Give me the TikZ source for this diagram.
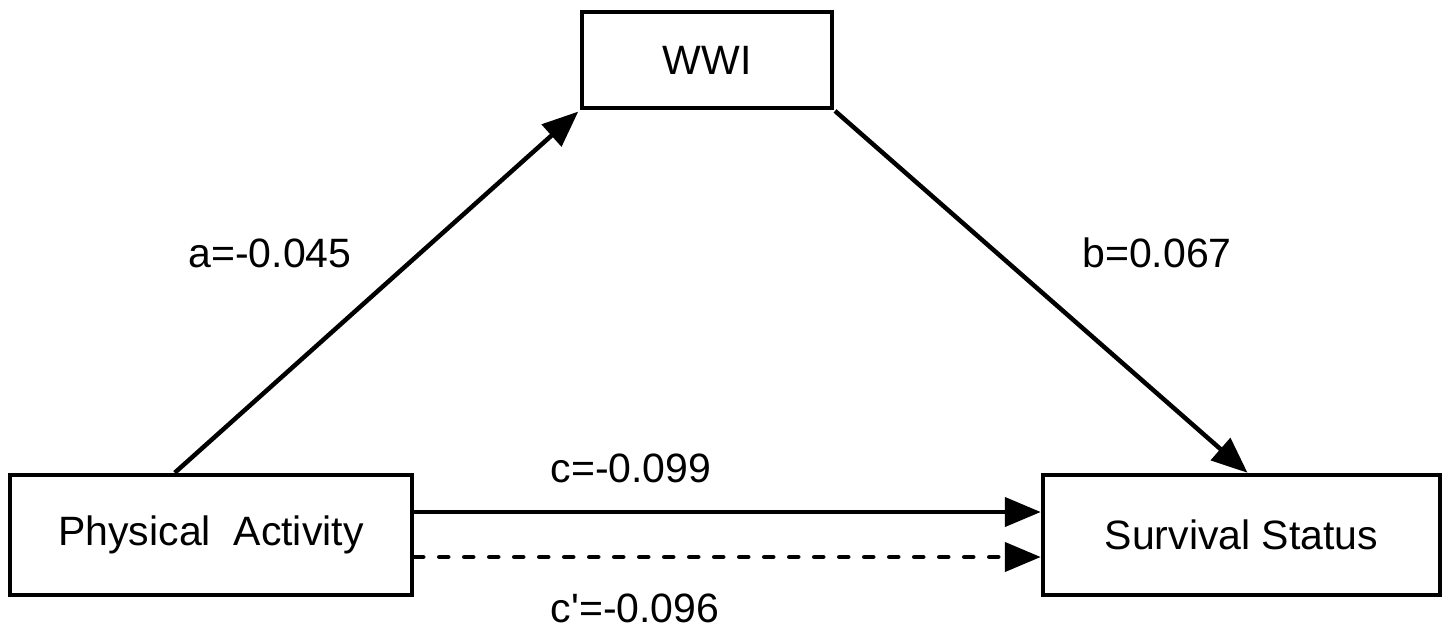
\documentclass[tikz,border=0pt]{standalone}
\usepackage{fontspec}
\newfontfamily\lab{Liberation Sans}
\usetikzlibrary{arrows.meta,calc}
\begin{document}
\begin{tikzpicture}[x=1pt,y=-1pt,
  box/.style={draw,line width=4.5pt,rectangle,inner sep=0pt,font=\lab\fontsize{41}{49}\selectfont},
  lbl/.style={inner sep=0pt,font=\lab\fontsize{41}{49}\selectfont},
  arr/.style={line width=4.5pt,-{Triangle[length=36pt,width=29pt]}},
  dsh/.style={line width=4.5pt,line cap=round,dash pattern=on 9pt off 16pt,-{Triangle[length=36pt,width=29pt]}}]
\useasboundingbox (0,0) rectangle (1445,630);
\node[box,minimum width=250pt,minimum height=96pt] (wwi) at (707,60) {WWI};
\node[box,minimum width=402pt,minimum height=120pt] (pa) at (211,535) {Physical\ \ Activity};
\node[box,minimum width=397pt,minimum height=120pt] (ss) at (1241.5,535) {Survival Status};
\draw[arr,shorten >=2pt] ($(pa.north west)+(167,0)$) -- (wwi.south west);
\draw[arr,shorten <=1pt] (wwi.south east) -- ($(ss.north)+(6,0)$);
\draw[arr] ([yshift=23pt]pa.east) -- ([yshift=23pt]ss.west);
\draw[dsh] ([yshift=-22pt]pa.east) -- ([yshift=-22pt]ss.west);
\node[lbl] (la) at (270,253) {a=-0.045};
\node[lbl] (lb) at (1157,253) {b=0.067};
\node[lbl] (lc) at (631,468) {c=-0.099};
\node[lbl] (lcp) at (635,608) {c'=-0.096};
\end{tikzpicture}
\end{document}
